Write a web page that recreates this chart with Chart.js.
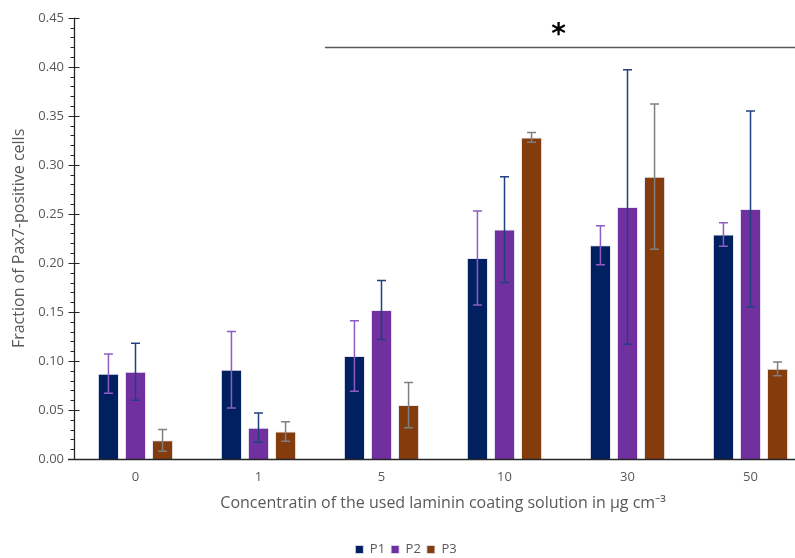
<!DOCTYPE html>
<html>
<head>
<meta charset="utf-8">
<script src="https://cdn.jsdelivr.net/npm/chart.js@4/dist/chart.umd.min.js"></script>
<style>
  html, body { margin: 0; padding: 0; background: #fff; overflow: hidden; }
  #wrap { width: 815px; height: 566px; position: relative; }
</style>
</head>
<body>
<div id="wrap"><canvas id="chart"></canvas></div>
<script>
// categories (laminin concentration)
const concentrations = ['0', '1', '5', '10', '30', '50'];

// mean fraction of Pax7-positive cells
const p1Values = [0.087, 0.091, 0.105, 0.205, 0.218, 0.229];
const p2Values = [0.089, 0.032, 0.152, 0.234, 0.257, 0.255];
const p3Values = [0.019, 0.028, 0.055, 0.328, 0.288, 0.092];

// error bar half-widths
const p1Errors = [0.020, 0.039, 0.036, 0.048, 0.020, 0.012];
const p2Errors = [0.029, 0.015, 0.030, 0.054, 0.140, 0.100];
const p3Errors = [0.011, 0.010, 0.023, 0.005, 0.074, 0.007];

const seriesLabels = ['P1', 'P2', 'P3'];
const barColors = ['#002060', '#7030A0', '#843C0C'];
const errorColors = ['#8e5cc4', '#23407e', '#7f7f7f'];

// significance bracket, in data units (category index / y value)
const sigLineFrom = 1.54;
const sigLineY = 0.42;
const sigStarX = 3.44;
const sigStarY = 0.438;

const values = [p1Values, p2Values, p3Values];
const errors = [p1Errors, p2Errors, p3Errors];

const errorBars = {
    id: 'errorBars',
    afterDatasetsDraw(chart) {
        const { ctx, scales: { y } } = chart;
        ctx.save();
        chart.data.datasets.forEach((ds, di) => {
            const meta = chart.getDatasetMeta(di);
            meta.data.forEach((bar, i) => {
                const v = values[di][i], e = errors[di][i];
                const yTop = y.getPixelForValue(v + e);
                const yBot = y.getPixelForValue(v - e);
                ctx.strokeStyle = errorColors[di];
                ctx.lineWidth = 1.5;
                ctx.beginPath();
                ctx.moveTo(bar.x, yTop); ctx.lineTo(bar.x, yBot);
                ctx.moveTo(bar.x - 4.5, yTop); ctx.lineTo(bar.x + 4.5, yTop);
                ctx.moveTo(bar.x - 4.5, yBot); ctx.lineTo(bar.x + 4.5, yBot);
                ctx.stroke();
            });
        });
        ctx.restore();
    }
};

const significance = {
    id: 'significance',
    afterDraw(chart) {
        const { ctx, scales: { x, y } } = chart;
        const step = x.getPixelForValue(1) - x.getPixelForValue(0);
        const x0 = x.getPixelForValue(0) + sigLineFrom * step;
        const ly = Math.round(y.getPixelForValue(sigLineY)) + 0.5;
        ctx.save();
        ctx.strokeStyle = '#595959';
        ctx.lineWidth = 1.5;
        ctx.beginPath();
        ctx.moveTo(x0, ly);
        ctx.lineTo(chart.width, ly);
        ctx.stroke();
        ctx.fillStyle = '#000';
        ctx.font = 'bold 28px "DejaVu Sans", sans-serif';
        ctx.textAlign = 'center';
        ctx.textBaseline = 'middle';
        ctx.fillText('*', x.getPixelForValue(0) + sigStarX * step, y.getPixelForValue(sigStarY) + 6);
        ctx.restore();
    }
};

// axis lines, minor ticks on the y axis and crossing major ticks
const axes = {
    id: 'axes',
    afterDatasetsDraw(chart) {
        const { ctx, chartArea: { left, bottom }, scales: { y } } = chart;
        const ax = Math.round(left) + 0.5;
        ctx.save();
        ctx.strokeStyle = '#262626';
        ctx.lineWidth = 1.3;
        ctx.beginPath();
        ctx.moveTo(ax, y.getPixelForValue(0.45));
        ctx.lineTo(ax, bottom);
        ctx.moveTo(left - 6, Math.round(bottom) + 0.5);
        ctx.lineTo(chart.width, Math.round(bottom) + 0.5);
        ctx.stroke();
        ctx.lineWidth = 1;
        for (let k = 0; k <= 45; k++) {
            const py = Math.round(y.getPixelForValue(k / 100)) + 0.5;
            ctx.beginPath();
            if (k % 5 === 0) {
                ctx.moveTo(ax - 6, py); ctx.lineTo(ax + 5, py);
            } else {
                ctx.moveTo(ax - 4, py); ctx.lineTo(ax, py);
            }
            ctx.stroke();
        }
        ctx.restore();
    }
};

new Chart(document.getElementById('chart'), {
    type: 'bar',
    data: {
        labels: concentrations,
        datasets: seriesLabels.map((lab, i) => ({
            label: lab,
            data: values[i],
            backgroundColor: barColors[i],
            borderColor: 'rgba(225,225,240,0.8)',
            borderWidth: 1,
            categoryPercentage: 0.66,
            barPercentage: 0.78
        }))
    },
    options: {
        responsive: true,
        maintainAspectRatio: false,
        animation: false,
        layout: { padding: { top: 11, right: 3, left: 0, bottom: 0 } },
        plugins: {
            legend: {
                position: 'bottom',
                labels: {
                    boxWidth: 8,
                    boxHeight: 8,
                    padding: 6,
                    color: '#595959',
                    font: { family: "'Open Sans', sans-serif", size: 13 }
                }
            },
            tooltip: { enabled: false }
        },
        scales: {
            x: {
                grid: { display: false, drawTicks: false },
                border: { display: false },
                ticks: {
                    color: '#595959',
                    padding: 10,
                    font: { family: "'Open Sans', sans-serif", size: 13 }
                },
                title: {
                    display: true,
                    text: 'Concentratin of the used laminin coating solution in µg cm⁻³',
                    color: '#595959',
                    padding: { top: 4, bottom: 24 },
                    font: { family: "'Open Sans', sans-serif", size: 16 }
                },
                afterFit: s => { s.height = 78; }
            },
            y: {
                min: 0,
                max: 0.45,
                grid: { display: false, drawTicks: false },
                border: { display: false },
                ticks: {
                    stepSize: 0.05,
                    padding: 10,
                    color: '#595959',
                    font: { family: "'Open Sans', sans-serif", size: 13 },
                    callback: v => v.toFixed(2)
                },
                title: {
                    display: true,
                    text: 'Fraction of Pax7-positive cells',
                    color: '#595959',
                    padding: { top: 10, bottom: 4 },
                    font: { family: "'Open Sans', sans-serif", size: 16 }
                },
                afterFit: s => { s.width = 74; }
            }
        }
    },
    plugins: [errorBars, significance, axes]
});
</script>
</body>
</html>
